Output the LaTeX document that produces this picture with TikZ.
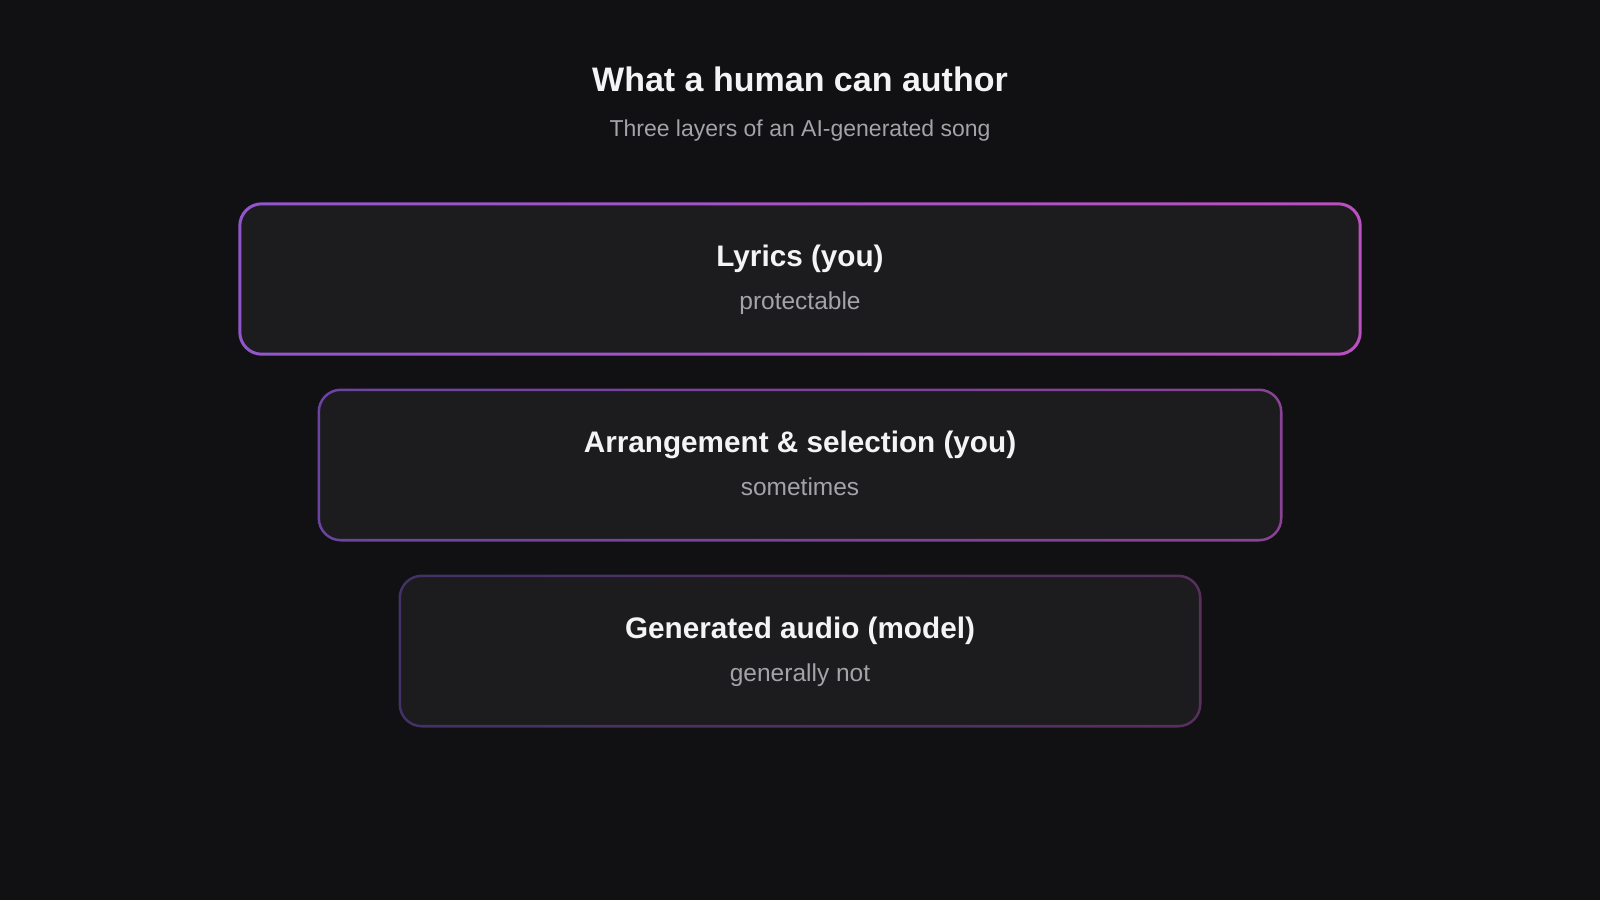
\documentclass[tikz,border=0pt]{standalone}
\usepackage{fontspec}
\setmainfont{Liberation Sans}
\usetikzlibrary{calc,positioning}

\definecolor{bgdark}{HTML}{111114}
\definecolor{boxfill}{HTML}{1C1C1F}
\definecolor{headtext}{HTML}{F4F4F5}
\definecolor{softgray}{HTML}{A3A3A8}
\definecolor{layAl}{HTML}{9256CC}
\definecolor{layAr}{HTML}{BC4FC2}
\definecolor{layBl}{HTML}{6C43A2}
\definecolor{layBr}{HTML}{8A4294}
\definecolor{layCl}{HTML}{443165}
\definecolor{layCr}{HTML}{57305D}

\tikzset{
  layerbox/.style={draw=none, fill=boxfill, rounded corners=22pt,
    minimum height=150pt, inner sep=0pt},
  layertitle/.style={text=headtext, font=\fontsize{29.7}{34}\selectfont\bfseries, inner sep=0pt},
  layernote/.style={text=softgray, font=\fontsize{24.5}{28}\selectfont, inner sep=0pt}
}

\begin{document}
\begin{tikzpicture}[x=1pt, y=-1pt]
      \fill [bgdark] (0,0) rectangle (1600,900);
      \useasboundingbox (0,0) rectangle (1600,900);

      \node [text=headtext, font=\fontsize{34}{38}\selectfont\bfseries, inner sep=0pt, anchor=base]
            (head) at (800, 91) {What a human can author};
      \node [text=softgray, font=\fontsize{23}{26}\selectfont, inner sep=0pt, anchor=base]
            (subhead) at (800, 136) {Three layers of an AI-generated song};

      \foreach \nm/\yc/\w/\bw/\ttl/\sub/\lc/\rc in
               {lyrics/279/1120/1.5/Lyrics (you)/protectable/layAl/layAr,
                arrange/465/962/1.3/Arrangement \& selection (you)/sometimes/layBl/layBr,
                audio/651/800/1.3/Generated audio (model)/generally not/layCl/layCr}
               {
                 \node [layerbox, minimum width=\w pt] (\nm) at (800, \yc) {};
                 \shade [left color=\lc, right color=\rc, even odd rule]
                        [rounded corners=23.5pt] ($ (\nm.north west) + (-\bw, -\bw) $) rectangle ($ (\nm.south east) + (\bw, \bw) $)
                        [rounded corners=20.5pt] ($ (\nm.north west) + (\bw, \bw) $) rectangle ($ (\nm.south east) - (\bw, \bw) $);
                 \node [layertitle, anchor=base] (\nm-title) at ($ (\nm.center) + (0, -13) $) {\ttl};
                 \node [layernote, anchor=base] (\nm-note) at ($ (\nm.center) + (0, 30) $) {\sub};
               }
    \end{tikzpicture}
\end{document}
